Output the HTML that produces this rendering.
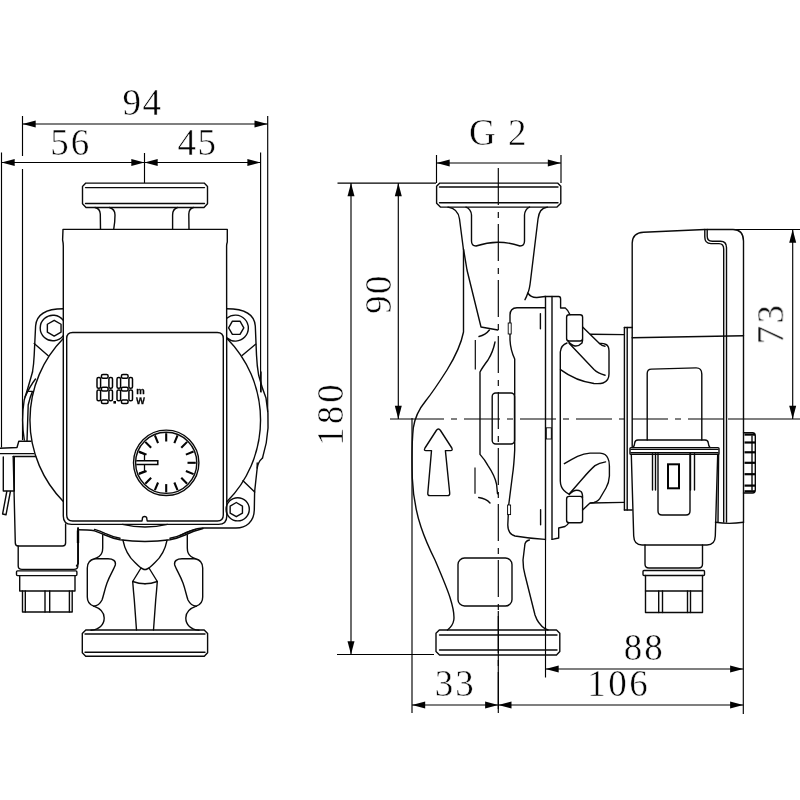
<!DOCTYPE html>
<html><head><meta charset="utf-8"><title>Pump dimensions</title>
<style>
html,body{margin:0;padding:0;background:#fff;}
body{width:800px;height:800px;overflow:hidden;}
svg{display:block;}
.o path,.o circle,.o rect,.o polygon{fill:none;stroke:#0a0a0a;stroke-width:1.4;stroke-linecap:round;stroke-linejoin:round;}
.d path{fill:none;stroke:#000;stroke-width:1.15;}
.ah{fill:#000;stroke:none;}
text{font-family:"Liberation Serif",serif;fill:#000;}
.t text{stroke:#fff;stroke-width:0.5;}
.seg{fill:none;stroke:#000;stroke-width:1.5;}
.tk{stroke:#000;stroke-width:2.1;fill:none;}
.u{font-family:"Liberation Sans",sans-serif;font-weight:bold;fill:#000;stroke:#000;stroke-width:0.25;text-rendering:geometricPrecision;}
</style></head>
<body>
<svg width="800" height="800" viewBox="0 0 800 800">
<rect width="800" height="800" fill="#fff"/>
<g class="d">
<path d="M22.5,116L22.5,156"/>
<path d="M22.5,169L22.5,440"/>
<path d="M1.5,152.5L1.5,447.5"/>
<path d="M267.7,116L267.7,412"/>
<path d="M260.6,152.5L260.6,392"/>
<path d="M22.5,124L267.7,124"/>
<path d="M1.5,162.5L260.6,162.5"/>
<path d="M144.5,153L144.5,183"/>
<path d="M337.5,183.1L436,183.1"/>
<path d="M337,654.5L434,654.5"/>
<path d="M351,183.1L351,654.5"/>
<path d="M398.3,183.1L398.3,419"/>
<path d="M390,419L424,419"/>
<path d="M424,419L728,419" stroke-dasharray="36 7 6 7" stroke-dashoffset="16"/>
<path d="M728,419L800,419"/>
<path d="M436.5,155L436.5,183"/>
<path d="M561,155L561,183"/>
<path d="M436.5,163L561,163"/>
<path d="M498.3,168L498.3,713" stroke-dasharray="37 7 6 6"/>
<path d="M412,418L412,713"/>
<path d="M498.3,611L498.3,713"/>
<path d="M412,705L743.3,705"/>
<path d="M545.5,669L743.3,669"/>
<path d="M545.5,540L545.5,677.5"/>
<path d="M743.3,523L743.3,714"/>
<path d="M792.7,229.5L792.7,419"/>
<path d="M705,229.5L800,229.5"/>
<path d="M475.3,340L475.3,369.4"/>
<path d="M475,467.5L475,493.7"/>
</g>
<g class="o">
<path d="M85.8,183.1 L204.2,183.1 L207.5,186.4 L207.5,203.8 L204,207.5 L86,207.5 L82.5,203.8 L82.5,186.4 Z"/>
<path d="M85.5,187.6L204.5,187.6"/>
<path d="M85.5,203.5L204.5,203.5"/>
<path d="M95,207.5 Q100,208.5 100.3,214 L100.5,229.4"/>
<path d="M109.4,207.5 Q115,209 115,215 Q115,222 113.7,229.4"/>
<path d="M177.5,207.5 Q172.6,209 172.6,215 L172.6,229.4"/>
<path d="M193.5,207.5 Q189,208.5 188.8,214 L189,229.4"/>
<path d="M63,229.4 L227.3,229.4 L227.3,242 Q226.6,244 226.6,246 L226.8,516 Q226.8,524.4 218.5,524.4 L71.5,524.4 Q63.3,524.4 63.3,516 L63.3,246 Q63.3,243 62.6,240 Z"/>
<path d="M72.7,332.5 L217.3,332.5 Q223.3,332.5 223.3,338.5 L223.3,515 Q223.3,521 217.3,521 L147.2,521 L146.6,517.3 Q144.6,515.8 142.6,517.3 L142,521 L72.7,521 Q66.7,521 66.7,515 L66.7,338.5 Q66.7,332.5 72.7,332.5 Z"/>
<path d="M63.3,338.6 A116,116 0 0 0 63.3,501.4"/>
<path d="M226.8,338.2 A116,116 0 0 1 226.8,501.8"/>
<path d="M32.5,372 Q28,388 24.2,400 A123,123 0 0 0 24.3,440"/>
<path d="M258.6,375 Q262,388 266,398 A123,123 0 0 1 262.5,458"/>
<path d="M63.3,308.7 C46,308.7 36.5,314 35.6,326 L34.2,355 Q33.8,364 32.5,372"/>
<path d="M63.3,320.4 A12.8,12.8 0 1 0 63.3,335.6"/>
<polygon points="61.04,332.15 54.20,336.10 47.36,332.15 47.36,324.25 54.20,320.30 61.04,324.25"/>
<path d="M34.2,343.5L48.2,355.7"/>
<path d="M35.5,379 Q30,386 25,397"/>
<path d="M28.7,391.4 L32.5,391.4 Q30,397 28.2,405 L27,441"/>
<path d="M226.8,308.7 C244,308.7 254.5,314 255.3,326 L256.5,355 Q257,366 258.6,375"/>
<path d="M226.8,318.3 A13,13 0 1 1 226.8,337.9"/>
<polygon points="243.80,327.80 240.00,334.38 232.40,334.38 228.60,327.80 232.40,321.22 240.00,321.22"/>
<path d="M242.4,355.3L255.6,344.2"/>
<path d="M261,372 L261,392"/>
<path d="M257.2,463 L257.2,468 L254.6,492 L254.3,510 C254,522 246,528 236,528 L202.5,528 Q192,529 180,535.5"/>
<circle cx="237.7" cy="509.3" r="11.6"/>
<polygon points="242.45,513.15 236.30,516.70 230.15,513.15 230.15,506.05 236.30,502.50 242.45,506.05"/>
<path d="M243,480.7L254.7,492"/>
<path d="M262.5,458 Q258,462 257.2,468"/>
<path d="M78,529.7 Q88,529.7 94.5,530.8 Q100,532.5 105,535 Q113,538.5 120,539.8 Q132,541.5 145,541.5 Q158,541.5 170,539.8 Q177,538.5 185,535 Q193,531 203,528.5"/>
<path d="M94.5,529.4 Q100,531 105,533.4 Q113,537 120,538.3"/>
<path d="M195.5,529.4 Q190,531 185,533.4 Q177,537 170,538.3"/>
<path d="M122.5,524.4 Q145,529.5 167.5,524.4"/>
<path d="M78.3,528 L78.3,563.5 L76.5,566"/>
<path d="M102.7,535 L102.7,548 Q102.7,554 99,556.5 Q96.5,558.2 94.5,558.7 C89,560 87.3,563 87.3,568 L87.3,597 C87.3,602 89,604.5 93.7,606.2 C99,608 104.2,612 104.2,618 C104.2,625 99,629.5 91,630.2"/>
<path d="M 187.30,535 L 187.30,548 Q 187.30,554 191.00,556.5 Q 193.50,558.2 195.50,558.7 C 201.00,560 202.70,563 202.70,568 L 202.70,597 C 202.70,602 201.00,604.5 196.30,606.2 C 191.00,608 185.80,612 185.80,618 C 185.80,625 191.00,629.5 199.00,630.2"/>
<path d="M94.5,558.7 L108,558.7 C113,558.7 116.2,561 115.3,565 C114,569 110,575 107,583 C104.5,590 103.5,596 102,600 C100,604 97,606 93.7,606.2"/>
<path d="M 195.50,558.7 L 182.00,558.7 C 177.00,558.7 173.80,561 174.70,565 C 176.00,569 180.00,575 183.00,583 C 185.50,590 186.50,596 188.00,600 C 190.00,604 193.00,606 196.30,606.2"/>
<path d="M123,540.3 C124.5,548 128,556 135,562.5 Q139,566.5 141,568 L144,569.5 L145,569.5"/>
<path d="M 167.00,540.3 C 165.50,548 162.00,556 155.00,562.5 Q 151.00,566.5 149.00,568 L 146.00,569.5 L 145.00,569.5"/>
<path d="M141,568 L132.7,581.5 Q139,583.8 145,583.8"/>
<path d="M 149.00,568 L 157.30,581.5 Q 151.00,583.8 145.00,583.8"/>
<path d="M132.7,581.5 Q133.5,592 134.3,600 L136.5,630"/>
<path d="M 157.30,581.5 Q 156.50,592 155.70,600 L 153.50,630"/>
<path d="M85.8,630 L204.2,630 L207.6,633.6 L207.6,652.8 L204.3,656.3 L85.7,656.3 L82.3,652.8 L82.3,633.6 Z"/>
<path d="M85,634L205,634"/>
<path d="M85,652.3L205,652.3"/>
<path d="M0,448.3 L17,447.5 L18.8,441.3 L31,441.3"/>
<path d="M0,453.6 L34,453.6"/>
<path d="M13.2,456.5 L35.6,456.5"/>
<path d="M13.2,456.5 L15.3,543 Q15.3,546 18.3,546 L62.5,546 Q65.6,546 65.6,543 L65.6,524"/>
<path d="M18.2,546 L18.2,566 Q18.2,569.4 22,569.4 L74,569.4 Q77.8,569.4 77.8,566 L77.8,528"/>
<rect x="16.5" y="570.9" width="60.400000000000006" height="4.7000000000000455" rx="1"/>
<path d="M19.7,575.6 L19.7,591 L75,591 L75,575.6"/>
<path d="M22.5,591 L22.5,612 L72.2,612 L72.2,591"/>
<path d="M25.3,591L25.3,612"/>
<path d="M45,591L45,612"/>
<path d="M49.7,591L49.7,612"/>
<path d="M69.4,591L69.4,612"/>
<path d="M3.3,457 L3.3,491 L14.3,491 L14.3,457"/>
<path d="M6.8,491.5 L2.6,514 L6,514.8 L10.4,491.5"/>
<circle cx="166.2" cy="462.8" r="32.7"/>
<circle cx="166.2" cy="462.8" r="30.6"/>
<path d="M439.8,183.1 L557.6,183.1 L560.8,186.3 L560.8,203.3 L557,207.1 L440.4,207.1 L436.6,203.3 L436.6,186.3 Z"/>
<path d="M439.5,187L558,187"/>
<path d="M439.5,202.8L558,202.8"/>
<path d="M448,207.1 C455,208 458.5,212 459.5,219 L463.5,250 L463.5,332 C461,345 455,357 447,370 C440,381 432,393 425.6,401 C419,409 415,416 413.3,428 C412,440 411.8,460 412.3,478 C413,495 416,512 421,527 C426,542 431,552 435,560 C441,574 447,588 450,597.5 C453,607 454.5,615 453.8,620 C453,625 450,628 447.5,630"/>
<path d="M463.5,249 L467,270 L481,327 L497.8,330"/>
<path d="M479,336.5 Q485.5,335 489.4,330"/>
<path d="M466,207.1 Q471,209 471.5,215 L471.5,241 Q471.5,246 476,246 Q498,238.5 520,246 Q524.5,246 524.5,241 L524.5,215 Q525,209 529.5,207.1"/>
<path d="M547.5,207.1 C541,208 539,212 538,219 L530.6,280 Q529.5,290 527.8,293 Q526.5,297 525,299.7"/>
<path d="M527.8,293 Q531,297.8 537,297.5 L545,296.5"/>
<path d="M545.5,296.5 L545.5,540"/>
<path d="M552,296.5 L552,539.4"/>
<path d="M545,296.5 L558.7,296.5 Q560.6,296.5 560.6,299 L560.6,308 L565.3,308 Q568,310 570,314.7"/>
<rect x="566.6" y="314.7" width="16.0" height="26.30000000000001" rx="2.5"/>
<rect x="566.6" y="496.4" width="16.0" height="26.300000000000068" rx="2.5"/>
<path d="M567,343 Q561,345 560.3,352 L560.3,481 Q560.5,487 564,490.5 Q566,492.5 569.4,494.4"/>
<path d="M582.6,326.90 L599.5,343.50 Q603,343.00 606,344.50 Q609,346.00 609,351.00 L609,374.00 Q609,381.00 603,383.00 Q600,384.00 594,383.50 Q576,381.00 560.5,369.60"/>
<path d="M599.5,343.50 Q602,346.00 605,346.20"/>
<path d="M569.1,343.20 L594,369.50 Q598,373.50 605.1,375.20"/>
<path d="M568,341.00 Q575,350.00 582,343.00 L582.6,340.00"/>
<path d="M564.4,463.7 Q571,459.5 577.5,456.3 Q584,453.5 590,453.1 L600,453.1 Q606,453.5 607.8,458 Q609.4,461 609.4,466 L609.4,476 Q609,483 606,488 L601,496.5 Q599,501 594,502.5 L590,503.1 L582.6,510"/>
<path d="M605.6,461.9 Q599,463 595,465.6 Q590,470 582.5,478.7 L569.4,493.7"/>
<path d="M569.4,494.4 Q575,488 581,491.5 Q582.6,493 582.6,497.5"/>
<path d="M590.5,334.2L624.2,334.6"/>
<path d="M590.5,503L624.2,502.4"/>
<path d="M545,307.7 L517,307.7 Q510,308 510,315 L510,340 Q510.5,350 514.7,359 L514.7,450 Q514,465 512.5,475 L508.7,505 L507.8,525 Q508,534 515,536 Q530,538.5 545,539.4"/>
<path d="M540.4,313.7L540.4,328.7"/>
<path d="M540.6,509.7L540.6,524.7"/>
<rect x="492.2" y="393" width="22.30000000000001" height="51" rx="3.5"/>
<path d="M495,342 Q493,352 488,360 Q482,368 480,372 L480,454.4 Q485,460 488,465.6 Q495,476 496.6,484.4 L497.5,493.7"/>
<path d="M478.7,497.5 Q486,498.5 490,503"/>
<path d="M438.4,429 Q439.5,429 440.5,430.5 L451.8,448 Q453,450.6 450.5,450.6 L445.4,450.6 L449.7,493 Q450,495.6 447.5,495.6 L430,495.6 Q427.5,495.6 427.8,493 L431.5,450.6 L426,450.6 Q423.5,450.6 425,448 L436.3,430.5 Q437.3,429 438.4,429 Z"/>
<path d="M529.4,540 Q524.7,541 524.7,546 L523,560 Q523,568 525,575 L535,615 Q538,624 545,628.7 L548,630"/>
<rect x="458" y="558" width="54" height="48" rx="6.5"/>
<path d="M439.3,630 L556.5,630 L559.8,633.3 L559.8,651.5 L556.5,655 L439.5,655 L436,651.5 L436,633.3 Z"/>
<path d="M439.5,635L557,635"/>
<path d="M439.5,650L557,650"/>
<path d="M552.2,539.4 L558.7,538 L558.7,528 L565,526.5 Q567.5,525 568.7,522.7"/>
<path d="M632.2,327.5 L632.2,243 Q632.4,232.8 643.5,232.2 L705,229.5 L733,229.5 Q743.3,229.5 743.5,241 L743.5,522.5"/>
<path d="M704.8,229.5 L704.8,237 Q704.8,243.6 711,243.6 L719,243.6 Q723.7,243.6 723.7,249 L723.7,522"/>
<path d="M707.2,229.5 L707.2,236.3 Q707.2,241.2 712.3,241.2 L720.5,241.2 Q726.5,241.2 726.5,247.5 L726.5,522"/>
<path d="M624.4,327.5 L624.4,510"/>
<path d="M627.2,327.5 L627.2,510"/>
<path d="M624.4,327.5L632.2,327.5"/>
<path d="M624.4,510L632.2,510"/>
<path d="M632.2,327.5L632.2,447"/>
<path d="M632.2,337.8L743.5,335.8"/>
<path d="M647.2,440 L647.2,373.5 Q647.2,369.2 651.5,369.1 L696,367.9 Q701.8,367.8 701.8,374 L701.8,440"/>
<path d="M715.4,522.2 Q729,524.5 743.5,522.2"/>
<path d="M633,447.6 Q634.5,446 634.7,443 Q635,440 638,440 L705,440 Q708,440 708.3,443 Q708.5,446 710,447.6"/>
<rect x="630" y="447.6" width="89" height="6.7999999999999545" rx="1"/>
<path d="M631,449.4L718,449.4"/>
<path d="M631,452.8L718,452.8"/>
<path d="M631.3,454.4 L633.7,536 Q634,545 642,545 L707,545 Q715,545 715.3,536 L717.7,454.4"/>
<path d="M718.6,454.4L718,522"/>
<path d="M652.5,453.7L652.5,490"/>
<path d="M655.5,453.7L655.5,490"/>
<path d="M690.5,453.7L690.5,490"/>
<path d="M694.5,453.7L694.5,490"/>
<path d="M658,453.7 L658,511 Q658,515 662,515 L686,515 Q690,515 690,511 L690,453.7"/>
<path d="M645,545 L645,564 Q645,568 649,568 L698.5,568 Q702.5,568 702.5,564 L702.5,545"/>
<rect x="643" y="570.5" width="61.5" height="5.0" rx="1"/>
<path d="M645.5,575.5 L645.5,612.5 L702.5,612.5 L702.5,575.5"/>
<path d="M645.5,591L702.5,591"/>
<path d="M658.7,591L658.7,612.5"/>
<path d="M662.5,591L662.5,612.5"/>
<path d="M687.5,591L687.5,612.5"/>
<path d="M690.5,591L690.5,612.5"/>
<path d="M743.5,432.8 L752.5,432.8 Q755.3,433 755.3,436 L755.3,490 Q755.3,493 752.5,493 L743.5,493"/>
<path d="M752,436L752,490"/>
</g>
<g opacity="0.99">
<polygon class="ah" points="22.50,124.00 35.70,120.50 35.70,127.50"/>
<polygon class="ah" points="267.70,124.00 254.50,127.50 254.50,120.50"/>
<polygon class="ah" points="1.50,162.50 14.70,159.00 14.70,166.00"/>
<polygon class="ah" points="144.50,162.50 131.30,166.00 131.30,159.00"/>
<polygon class="ah" points="144.50,162.50 157.70,159.00 157.70,166.00"/>
<polygon class="ah" points="260.60,162.50 247.40,166.00 247.40,159.00"/>
<path d="M78,530.5L78,543" stroke="#000" stroke-width="2.4" fill="none"/>
<path class="tk" d="M187.50,462.80L195.80,462.80"/>
<path class="tk" d="M185.88,454.65L193.55,451.47"/>
<path class="tk" d="M181.26,447.74L187.13,441.87"/>
<path class="tk" d="M174.35,443.12L177.53,435.45"/>
<path class="tk" d="M166.20,441.50L166.20,433.20"/>
<path class="tk" d="M158.05,443.12L154.87,435.45"/>
<path class="tk" d="M151.14,447.74L145.27,441.87"/>
<path class="tk" d="M146.52,454.65L138.85,451.47"/>
<path class="tk" d="M146.52,470.95L138.85,474.13"/>
<path class="tk" d="M151.14,477.86L145.27,483.73"/>
<path class="tk" d="M158.05,482.48L154.87,490.15"/>
<path class="tk" d="M166.20,484.10L166.20,492.40"/>
<path class="tk" d="M174.35,482.48L177.53,490.15"/>
<path class="tk" d="M181.26,477.86L187.13,483.73"/>
<path class="tk" d="M185.88,470.95L193.55,474.13"/>
<path class="tk" style="stroke-width:1.5" d="M136.3,460.8 L157.8,460.8 L157.8,464.6 L136.3,464.6"/>
<path class="tk" style="stroke-width:1.3" d="M139,452.5 L144.5,454.5 L144.5,460.8 M139,473 L144.5,471 L144.5,464.6"/>
<rect class="seg" x="101.40" y="374.60" width="6.70" height="3.60" rx="1.5"/>
<rect class="seg" x="101.40" y="387.30" width="6.70" height="3.60" rx="1.5"/>
<rect class="seg" x="101.40" y="400.00" width="6.70" height="3.60" rx="1.5"/>
<rect class="seg" x="97.00" y="377.56" width="3.60" height="10.74" rx="1.5"/>
<rect class="seg" x="97.00" y="389.90" width="3.60" height="10.74" rx="1.5"/>
<rect class="seg" x="108.90" y="377.56" width="3.60" height="10.74" rx="1.5"/>
<rect class="seg" x="108.90" y="389.90" width="3.60" height="10.74" rx="1.5"/>
<rect class="seg" x="121.40" y="374.60" width="6.70" height="3.60" rx="1.5"/>
<rect class="seg" x="121.40" y="387.30" width="6.70" height="3.60" rx="1.5"/>
<rect class="seg" x="121.40" y="400.00" width="6.70" height="3.60" rx="1.5"/>
<rect class="seg" x="117.00" y="377.56" width="3.60" height="10.74" rx="1.5"/>
<rect class="seg" x="117.00" y="389.90" width="3.60" height="10.74" rx="1.5"/>
<rect class="seg" x="128.90" y="377.56" width="3.60" height="10.74" rx="1.5"/>
<rect class="seg" x="128.90" y="389.90" width="3.60" height="10.74" rx="1.5"/>
<rect x="113.4" y="401" width="2.6" height="2.6" fill="#000"/>
<text class="u" x="140.4" y="394.2" font-size="9.5" text-anchor="middle" transform="rotate(0.02 140 394)">m</text>
<text class="u" x="140.4" y="403.6" font-size="9.5" text-anchor="middle" transform="rotate(0.02 140 403)">W</text>
<polygon class="ah" points="351.00,183.10 354.50,196.30 347.50,196.30"/>
<polygon class="ah" points="351.00,654.50 347.50,641.30 354.50,641.30"/>
<polygon class="ah" points="398.30,183.10 401.80,196.30 394.80,196.30"/>
<polygon class="ah" points="398.30,419.00 394.80,405.80 401.80,405.80"/>
<polygon class="ah" points="436.50,163.00 449.70,159.50 449.70,166.50"/>
<polygon class="ah" points="561.00,163.00 547.80,166.50 547.80,159.50"/>
<polygon class="ah" points="412.00,705.00 425.20,701.50 425.20,708.50"/>
<polygon class="ah" points="498.30,705.00 485.10,708.50 485.10,701.50"/>
<polygon class="ah" points="498.30,705.00 511.50,701.50 511.50,708.50"/>
<polygon class="ah" points="743.30,705.00 730.10,708.50 730.10,701.50"/>
<polygon class="ah" points="545.50,669.00 558.70,665.50 558.70,672.50"/>
<polygon class="ah" points="743.30,669.00 730.10,672.50 730.10,665.50"/>
<polygon class="ah" points="792.70,229.50 796.20,242.70 789.20,242.70"/>
<polygon class="ah" points="792.70,419.00 789.20,405.80 796.20,405.80"/>
<rect x="546.3" y="427.8" width="5" height="11.2" fill="none" stroke="#000" stroke-width="0.9"/>
<rect x="508.2" y="323" width="3" height="11" fill="#fff" stroke="#000" stroke-width="0.9"/>
<rect x="507.6" y="505" width="3" height="9.6" fill="#fff" stroke="#000" stroke-width="0.9"/>
<rect x="668" y="464.3" width="11" height="24" fill="none" stroke="#000" stroke-width="2"/>
<path d="M744.5,434.6L755,434.6" stroke="#000" stroke-width="2.2" fill="none"/>
<path d="M744.5,442.5L755,442.5" stroke="#000" stroke-width="2.2" fill="none"/>
<path d="M744.5,452.3L755,452.3" stroke="#000" stroke-width="2.2" fill="none"/>
<path d="M744.5,462.8L755,462.8" stroke="#000" stroke-width="2.2" fill="none"/>
<path d="M744.5,474.2L755,474.2" stroke="#000" stroke-width="2.2" fill="none"/>
<path d="M744.5,485.6L755,485.6" stroke="#000" stroke-width="2.2" fill="none"/>
<path d="M744.5,491.3L755,491.3" stroke="#000" stroke-width="2.2" fill="none"/>
</g>
<g class="t" opacity="0.99">
<text x="142.5" y="114.5" font-size="37" text-anchor="middle" letter-spacing="1.5">94</text>
<text x="70.8" y="154.5" font-size="37" text-anchor="middle" letter-spacing="2">56</text>
<text x="197.4" y="154.5" font-size="37" text-anchor="middle" letter-spacing="1.5">45</text>
<text x="469.1" y="145" font-size="37" text-anchor="start" letter-spacing="1.5">G 2</text>
<text x="455.3" y="695.5" font-size="37" text-anchor="middle" letter-spacing="2">33</text>
<text x="644.3" y="660" font-size="37" text-anchor="middle" letter-spacing="2">88</text>
<text x="618.7" y="696" font-size="37" text-anchor="middle" letter-spacing="2.5">106</text>
<text x="343" y="413.5" font-size="37" text-anchor="middle" letter-spacing="3.2" transform="rotate(-90 343 413.5)">180</text>
<text x="390.7" y="294" font-size="37" text-anchor="middle" letter-spacing="1.5" transform="rotate(-90 390.7 294)">90</text>
<text x="782.7" y="323.5" font-size="37" text-anchor="middle" letter-spacing="2.5" transform="rotate(-90 782.7 323.5)">73</text>
</g>
</svg>
</body></html>
